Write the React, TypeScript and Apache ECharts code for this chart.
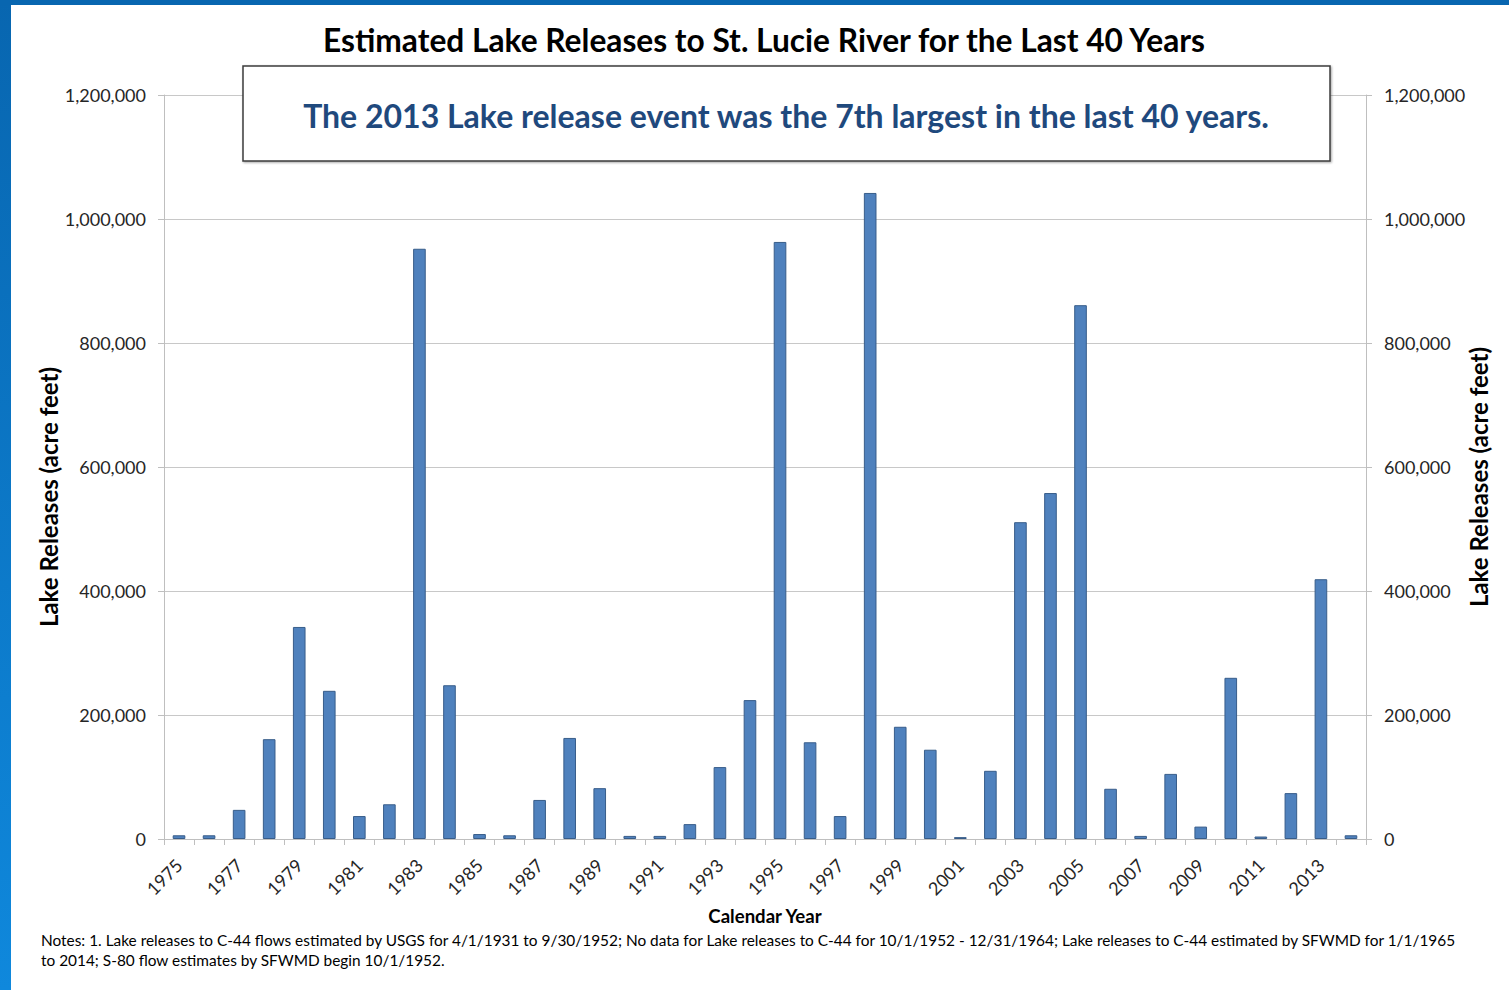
import React, { useEffect, useRef } from "react";
import * as echarts from "echarts";

const years: string[] = [
  "1975", "1976", "1977", "1978", "1979", "1980", "1981", "1982", "1983", "1984",
  "1985", "1986", "1987", "1988", "1989", "1990", "1991", "1992", "1993", "1994",
  "1995", "1996", "1997", "1998", "1999", "2000", "2001", "2002", "2003", "2004",
  "2005", "2006", "2007", "2008", "2009", "2010", "2011", "2012", "2013", "2014",
];

const releases: number[] = [
  6000, 6000, 47000, 161000, 342000, 239000, 37000, 56000, 952000, 248000,
  8000, 6000, 63000, 163000, 82000, 5000, 5000, 24000, 116000, 224000,
  963000, 156000, 37000, 1042000, 181000, 144000, 3000, 110000, 511000, 558000,
  861000, 81000, 5000, 105000, 20000, 260000, 4000, 74000, 419000, 6000,
];

const yTicks: number[] = [0, 200000, 400000, 600000, 800000, 1000000, 1200000];

const titleText = "Estimated Lake Releases to St. Lucie River for the Last 40 Years";
const calloutText = "The 2013 Lake release event was the 7th largest in the last 40 years.";
const yAxisTitle = "Lake Releases (acre feet)";
const xAxisTitle = "Calendar Year";
const notesLine1 =
  "Notes: 1. Lake releases to C-44 flows estimated by USGS for 4/1/1931 to 9/30/1952; No data for Lake releases to C-44 for 10/1/1952 - 12/31/1964; Lake releases to C-44 estimated by SFWMD for 1/1/1965";
const notesLine2 = "to 2014; S-80 flow estimates by SFWMD begin 10/1/1952.";

const FONT = "Lato, 'Open Sans', sans-serif";

const fmt = (v: number) => v.toLocaleString("en-US");

export default function App() {
  const ref = useRef<HTMLDivElement>(null);

  useEffect(() => {
    if (!ref.current) return;
    const chart = echarts.init(ref.current, undefined, { renderer: "svg" });
    const yMax = yTicks[yTicks.length - 1];
    const yInterval = yTicks[1] - yTicks[0];

    const yAxisCommon = {
      type: "value" as const,
      min: yTicks[0],
      max: yMax,
      interval: yInterval,
      axisLine: { show: true, lineStyle: { color: "#bfbfbf", width: 1 } },
      axisTick: { show: true, length: 6, lineStyle: { color: "#bfbfbf" } },
      splitLine: { show: true, lineStyle: { color: "#c8c8c8", width: 1 } },
      axisLabel: {
        formatter: (v: number) => fmt(v),
        color: "#262626",
        fontSize: 18,
        fontFamily: FONT,
        margin: 18,
      },
    };

    chart.setOption({
      animation: false,
      backgroundColor: "#ffffff",
      grid: { left: 164, right: 143, top: 95, bottom: 151, containLabel: false },
      xAxis: {
        type: "category",
        data: years,
        axisLine: { show: true, lineStyle: { color: "#bfbfbf", width: 1 } },
        axisTick: { show: true, alignWithLabel: false, interval: 0, length: 6, lineStyle: { color: "#bfbfbf" } },
        axisLabel: {
          interval: 1,
          rotate: 45,
          margin: 23,
          color: "#262626",
          fontSize: 18,
          fontFamily: FONT,
        },
        splitLine: { show: false },
      },
      yAxis: [
        { ...yAxisCommon, position: "left" },
        { ...yAxisCommon, position: "right", splitLine: { show: false } },
      ],
      series: [
        {
          type: "bar",
          data: releases,
          yAxisIndex: 0,
          barWidth: "42%",
          itemStyle: { color: "#4f81bd", borderColor: "#385d8a", borderWidth: 1 },
        },
      ],
      graphic: [
        {
          type: "rect",
          left: 0,
          top: 0,
          shape: { width: 11, height: 990 },
          style: {
            fill: new echarts.graphic.LinearGradient(0, 0, 0, 1, [
              { offset: 0, color: "#0866b0" },
              { offset: 1, color: "#0f88dc" },
            ]),
          },
          z: 100,
        },
        {
          type: "rect",
          left: 0,
          top: 0,
          shape: { width: 1509, height: 5 },
          style: { fill: "#0866b0" },
          z: 100,
        },
        {
          type: "text",
          x: 764,
          y: 40,
          style: {
            text: titleText,
            font: `bold 31.7px ${FONT}`,
            fill: "#000000",
            align: "center",
            verticalAlign: "middle",
          },
          z: 100,
        },
        {
          type: "rect",
          shape: { x: 243, y: 66, width: 1087, height: 95 },
          style: { fill: "#ffffff", stroke: "#3c3c3c", lineWidth: 1.5, shadowColor: "rgba(0,0,0,0.35)", shadowBlur: 2, shadowOffsetX: 1, shadowOffsetY: 1 },
          z: 100,
        },
        {
          type: "text",
          x: 786,
          y: 115,
          style: {
            text: calloutText,
            font: `bold 32px ${FONT}`,
            fill: "#1f497d",
            align: "center",
            verticalAlign: "middle",
          },
          z: 101,
        },
        {
          type: "text",
          x: 48,
          y: 497,
          rotation: Math.PI / 2,
          style: {
            text: yAxisTitle,
            font: `bold 24px ${FONT}`,
            fill: "#000000",
            align: "center",
            verticalAlign: "middle",
          },
          z: 100,
        },
        {
          type: "text",
          x: 1478,
          y: 477,
          rotation: Math.PI / 2,
          style: {
            text: yAxisTitle,
            font: `bold 24px ${FONT}`,
            fill: "#000000",
            align: "center",
            verticalAlign: "middle",
          },
          z: 100,
        },
        {
          type: "text",
          x: 765,
          y: 916,
          style: {
            text: xAxisTitle,
            font: `bold 18.6px ${FONT}`,
            fill: "#000000",
            align: "center",
            verticalAlign: "middle",
          },
          z: 100,
        },
        {
          type: "text",
          x: 41,
          y: 940,
          style: {
            text: notesLine1,
            font: `15.4px ${FONT}`,
            fill: "#000000",
            align: "left",
            verticalAlign: "middle",
          },
          z: 100,
        },
        {
          type: "text",
          x: 41,
          y: 960,
          style: {
            text: notesLine2,
            font: `15.4px ${FONT}`,
            fill: "#000000",
            align: "left",
            verticalAlign: "middle",
          },
          z: 100,
        },
      ],
    });

    return () => {
      chart.dispose();
    };
  }, []);

  return (
    <div
      ref={ref}
      style={{ position: "fixed", left: 0, top: 0, width: 1509, height: 990, background: "#ffffff" }}
    />
  );
}
